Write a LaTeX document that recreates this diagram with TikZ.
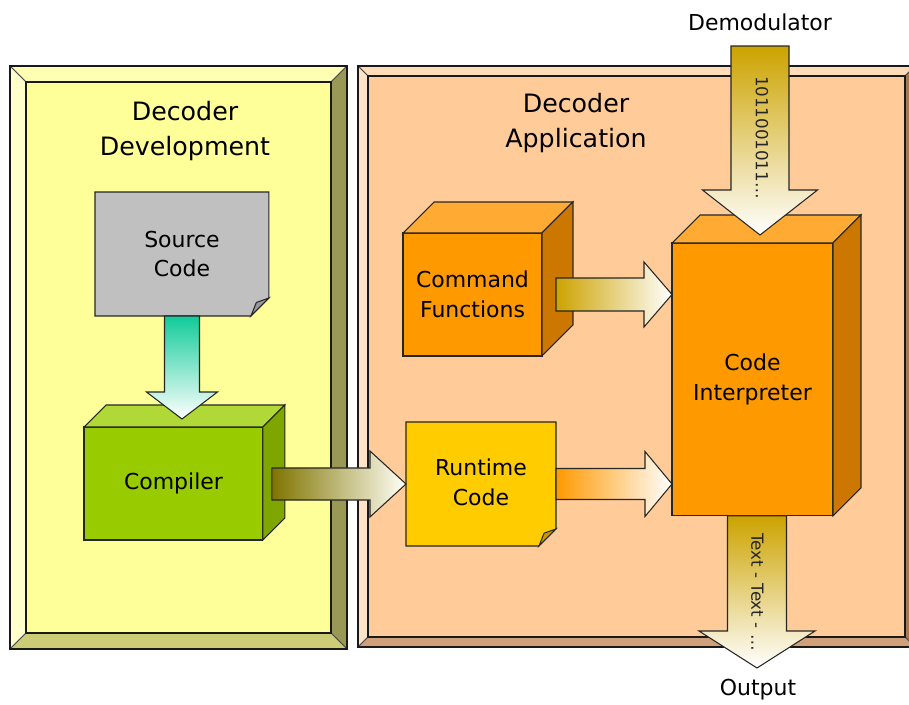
\documentclass[tikz,border=0pt]{standalone}
\usepackage{fontspec}
\setmainfont{DejaVu Sans}
\usepackage{tikz}
\usetikzlibrary{calc}

\definecolor{devfill}{HTML}{FFFF99}
\definecolor{devtop}{HTML}{FFFFB4}
\definecolor{devleft}{HTML}{FFFFCC}
\definecolor{devright}{HTML}{999955}
\definecolor{devbottom}{HTML}{CCCC77}
\definecolor{appfill}{HTML}{FFCC99}
\definecolor{apptop}{HTML}{FFDDB8}
\definecolor{appleft}{HTML}{FFE3C8}
\definecolor{appright}{HTML}{A87850}
\definecolor{appbottom}{HTML}{CFA07A}
\definecolor{srcgray}{HTML}{C0C0C0}
\definecolor{srcfold}{HTML}{999999}
\definecolor{cmpfront}{HTML}{99CC00}
\definecolor{cmptop}{HTML}{B0D836}
\definecolor{cmpside}{HTML}{7FA600}
\definecolor{orfront}{HTML}{FF9900}
\definecolor{ortop}{HTML}{FFAA33}
\definecolor{orside}{HTML}{CC7700}
\definecolor{rtfill}{HTML}{FFCC00}
\definecolor{rtfold}{HTML}{CC9900}
\definecolor{teal1}{HTML}{10CC99}
\definecolor{olive1}{HTML}{7F7400}
\definecolor{gold1}{HTML}{CCA300}
\definecolor{paper}{HTML}{FFFFF6}

% top and right faces of a box node: node, depth, top colour, side colour
\newcommand{\cubesides}[4]{%
\draw[blockedge, fill=#3] (#1.north west) -- ++(#2,-#2) -- ($(#1.north east)+(#2,-#2)$) -- (#1.north east) -- cycle;
\draw[blockedge, fill=#4] (#1.north east) -- ++(#2,-#2) -- ($(#1.south east)+(#2,-#2)$) -- (#1.south east) -- cycle;
}
% sheet with folded corner: node, fold, fill, fold colour
\newcommand{\notesheet}[4]{%
\draw[blockedge, fill=#3] (#1.north west) -- (#1.north east) -- ($(#1.south east)+(0,-#2)$) -- ($(#1.south east)+(-#2,0)$) -- (#1.south west) -- cycle;
\draw[blockedge, fill=#4] ($(#1.south east)+(0,-#2)$) -- ($(#1.south east)+(-#2,0)$) .. controls ($(#1.south east)+(-#2*0.8,-#2*0.5)$) .. ($(#1.south east)+(-#2*0.7,-#2*0.75)$) -- cycle;
}
% block arrows: start, tip, shaft half width, head half width, head length, shading
\newcommand{\rightblock}[6]{%
\draw[blockedge, #6] (#1 |- #2) ++(0,-#3) -- ($(#2)+(-#5,-#3)$) -- ($(#2)+(-#5,-#4)$) -- (#2) -- ($(#2)+(-#5,#4)$) -- ($(#2)+(-#5,#3)$) -- ($(#1 |- #2)+(0,#3)$) -- cycle;
}
\newcommand{\downblock}[6]{%
\draw[blockedge, #6] (#1 -| #2) ++(-#3,0) -- ($(#2)+(-#3,-#5)$) -- ($(#2)+(-#4,-#5)$) -- (#2) -- ($(#2)+(#4,-#5)$) -- ($(#2)+(#3,-#5)$) -- ($(#1 -| #2)+(#3,0)$) -- cycle;
}

\begin{document}
\begin{tikzpicture}[x=0.02cm, y=-0.02cm,
panelline/.style={draw=black!70, line width=0.5pt},
innerline/.style={draw=black!90, line width=0.7pt},
blockedge/.style={draw=black!85, line width=0.6pt},
frontnode/.style={rectangle, draw=black!85, line width=0.6pt, anchor=north west, outer sep=0pt, inner sep=0pt, align=center, font=\fontsize{12.5}{17}\selectfont},
cubenode1/.style={frontnode, fill=cmpfront},
cubenode2/.style={frontnode, fill=orfront},
notenode/.style={frontnode, draw=none},
labeltext/.style={align=center, font=\fontsize{12.5}{17}\selectfont},
titletext/.style={align=center, font=\fontsize{14.4}{20}\selectfont},
bittext/.style={rotate=-90, font=\fontsize{9.5}{11}\selectfont, text=black!85},
]
\useasboundingbox (0,0) rectangle (909,704);

%Panels
\filldraw[panelline, fill=devtop] (10,66) -- (347,66) -- (331,82) -- (26,82) -- cycle;
\filldraw[panelline, fill=devleft] (10,66) -- (26,82) -- (26,633) -- (10,649) -- cycle;
\filldraw[panelline, fill=devright] (347,66) -- (347,649) -- (331,633) -- (331,82) -- cycle;
\filldraw[panelline, fill=devbottom] (10,649) -- (26,633) -- (331,633) -- (347,649) -- cycle;
\filldraw[innerline, fill=devfill] (26,82) rectangle (331,633);
\draw[innerline] (10,66) rectangle (347,649);

\filldraw[panelline, fill=apptop] (358,66) -- (915,66) -- (905,76) -- (368,76) -- cycle;
\filldraw[panelline, fill=appleft] (358,66) -- (368,76) -- (368,637) -- (358,647) -- cycle;
\filldraw[panelline, fill=appright] (915,66) -- (915,647) -- (905,637) -- (905,76) -- cycle;
\filldraw[panelline, fill=appbottom] (358,647) -- (368,637) -- (905,637) -- (915,647) -- cycle;
\filldraw[innerline, fill=appfill] (368,76) rectangle (905,637);
\draw[innerline] (358,66) rectangle (915,647);

\node[titletext] (devtitle) at (185,131) {Decoder\\Development};
\node[titletext] (apptitle) at (576,123) {Decoder\\Application};

%Nodes
\node[notenode, minimum width=3.48cm, minimum height=2.48cm] (src) at (95,192) {};
\notesheet{src}{18}{srcgray}{srcfold}
\node[labeltext] (srctext) at (src.center) {Source\\Code};

\node[cubenode1, minimum width=3.58cm, minimum height=2.26cm] (cmp) at (84,427) {Compiler};
\cubesides{cmp}{22}{cmptop}{cmpside}

\node[cubenode2, minimum width=2.78cm, minimum height=2.46cm] (cf) at (403,233) {Command\\Functions};
\cubesides{cf}{31}{ortop}{orside}

\node[notenode, minimum width=3.0cm, minimum height=2.48cm] (rt) at (406,422) {};
\notesheet{rt}{17}{rtfill}{rtfold}
\node[labeltext] (rttext) at ($(rt.center)+(0,-2)$) {Runtime\\Code};

\node[cubenode2, minimum width=3.22cm, minimum height=5.46cm] (ci) at (672,243) {Code\\Interpreter};
\cubesides{ci}{28}{ortop}{orside}

\node[labeltext] (demod) at (760,22) {Demodulator};
\node[labeltext] (output) at (758,690) {Output};

\coordinate (demodout) at (760,46);
\coordinate (ciin) at (760,235);
\coordinate (cmpin) at ($(cmp.north)+(0,-8)$);
\coordinate (srctip) at (src.south |- cmpin);
\coordinate (cmpout) at ($(cmp.east)+(9,0)$);
\coordinate (cfout) at ($(cf.east)+(14,0)$);
\coordinate (ciout) at ($(ci.south)+(5,0)$);
\coordinate (outtip) at (757,668);

%Lines
\downblock{src.south}{srctip}{17.5}{35.5}{27}{top color=teal1, bottom color=white}
\rightblock{cmpout}{rt.west}{16}{33}{36}{left color=olive1, right color=paper}
\rightblock{cfout}{ci.west |- cf.east}{16.5}{32.5}{28}{left color=gold1, right color=white}
\rightblock{rt.east}{ci.west |- rt.east}{15.5}{32.5}{27}{left color=orfront, right color=white}
\downblock{demodout}{ciin}{29}{57.5}{45}{top color=gold1, bottom color=white}
\downblock{ciout}{outtip}{29.5}{58}{37}{top color=gold1, bottom color=white}

\node[bittext] (bits) at ($(demodout)!0.5!(ciin)+(2,-3)$) {1011001011\ldots};
\node[bittext] (texts) at ($(ciout)!0.5!(outtip)$) {Text - Text - \ldots};
\end{tikzpicture}
\end{document}
